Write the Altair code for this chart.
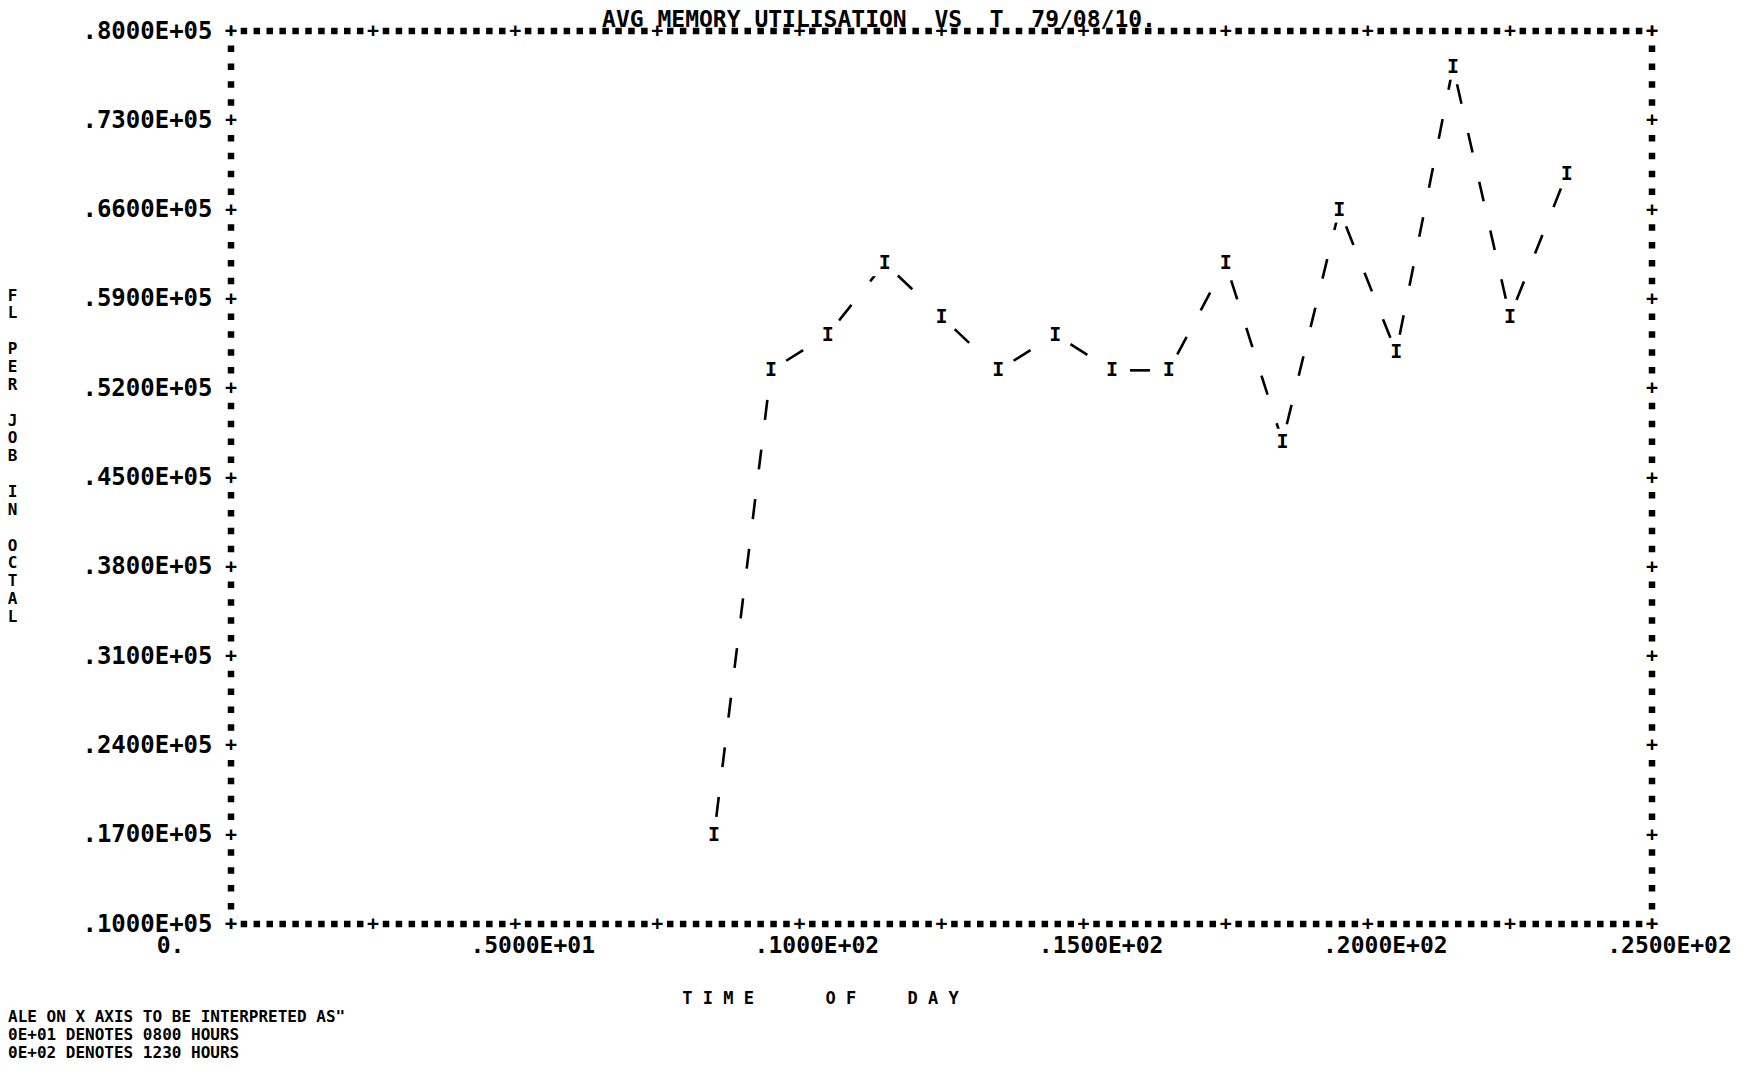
import altair as alt
import pandas as pd

FONT = "DejaVu Sans Mono"
NB = "\u00a0"
ZW = "\u200b"

# ---- data ----
time_of_day = [8.5, 9.5, 10.5, 11.5, 12.5, 13.5, 14.5, 15.5, 16.5, 17.5, 18.5, 19.5, 20.5, 21.5, 22.5, 23.5]
fl_per_job = [17000, 53400, 56200, 61800, 57600, 53400, 56200, 53400, 53400, 61800, 47800, 66000, 54800, 77200, 57600, 68800]

x_domain = [0, 25]
y_domain = [10000, 80000]
x_label_values = [0, 5, 10, 15, 20, 25]
x_labels = ["0.", ".5000E+01", ".1000E+02", ".1500E+02", ".2000E+02", ".2500E+02"]
x_tick_marks = [0, 2.5, 5, 7.5, 10, 12.5, 15, 17.5, 20, 22.5, 25]
y_tick_values = [10000, 17000, 24000, 31000, 38000, 45000, 52000, 59000, 66000, 73000, 80000]
y_labels = [".1000E+05", ".1700E+05", ".2400E+05", ".3100E+05", ".3800E+05", ".4500E+05",
            ".5200E+05", ".5900E+05", ".6600E+05", ".7300E+05", ".8000E+05"]

title_text = "AVG MEMORY UTILISATION  VS  T  79/08/10."
x_title = "T I M E       O F     D A Y"
y_title_words = ["FL", "PER", "JOB", "IN", "OCTAL"]
note_lines = ['ALE ON X AXIS TO BE INTERPRETED AS"',
              "0E+01 DENOTES 0800 HOURS",
              "0E+02 DENOTES 1230 HOURS"]

# ---- layout ----
W, H = 1421, 893


def label_expr(values, labels):
    expr = "''"
    for v, l in zip(values, labels):
        expr = f"(datum.value == {v}) ? '{l}' : ({expr})"
    return expr


y_title_lines = []
for i, w in enumerate(y_title_words):
    if i > 0:
        y_title_lines.append(ZW)
    y_title_lines.extend(list(w))

x_scale = alt.Scale(domain=x_domain, nice=False, zero=False)
y_scale = alt.Scale(domain=y_domain, nice=False, zero=False)

x_axis = alt.Axis(
    values=x_label_values,
    labelExpr=label_expr(x_label_values, x_labels),
    domain=False, ticks=False, tickSize=0, grid=False,
    labelFont=FONT, labelFontSize=23, labelFontWeight="bold", labelColor="black",
    labelAlign="center", labelBaseline="middle", labelPadding=21,
    labelFlush=False, labelOverlap=False,
    labelOffset={"condition": {"test": "datum.value == 0", "value": -61}, "value": 17},
    title=x_title.replace(" ", NB), titleFont=FONT, titleFontSize=17, titleFontWeight="bold",
    titleColor="black", titleX=589, titleY=74, titleAlign="center", titleBaseline="middle",
)
y_axis = alt.Axis(
    values=y_tick_values,
    labelExpr=label_expr(y_tick_values, y_labels),
    domain=False, ticks=False, tickSize=0, grid=False,
    labelFont=FONT, labelFontSize=24, labelFontWeight="bold", labelColor="black",
    labelPadding=19, labelOverlap=False,
    title=y_title_lines, titleAngle=0, titleFont=FONT, titleFontSize=16, titleFontWeight="bold",
    titleColor="black", titleX=-219, titleY=256, titleAlign="center", titleBaseline="top",
    titleLineHeight=17.86,
)


def X(f="x"):
    return alt.X(f"{f}:Q", scale=x_scale, axis=x_axis)


def Y(f="y"):
    return alt.Y(f"{f}:Q", scale=y_scale, axis=y_axis)


# ---- frames of '*' characters ----
h_border = pd.DataFrame({"x": [x_domain[0]] * 2, "x2": [x_domain[1]] * 2, "y": y_domain})
v_border = pd.DataFrame({"x": x_domain, "y": [y_domain[0]] * 2, "y2": [y_domain[1]] * 2})

col = W / 110.0
row = H / 50.0
star = 6.5

hb = alt.Chart(h_border).mark_rule(
    color="black", strokeWidth=star, strokeDash=[star, col - star], strokeDashOffset=star / 2
).encode(x=X(), x2="x2:Q", y=Y())
vb = alt.Chart(v_border).mark_rule(
    color="black", strokeWidth=star, strokeDash=[star, row - star], strokeDashOffset=star / 2
).encode(x=X(), y=Y(), y2="y2:Q")

plus_df = pd.concat([
    pd.DataFrame({"x": x_tick_marks, "y": [y_domain[0]] * len(x_tick_marks)}),
    pd.DataFrame({"x": x_tick_marks, "y": [y_domain[1]] * len(x_tick_marks)}),
    pd.DataFrame({"x": [x_domain[0]] * len(y_tick_values), "y": y_tick_values}),
    pd.DataFrame({"x": [x_domain[1]] * len(y_tick_values), "y": y_tick_values}),
], ignore_index=True)

plus_bg = alt.Chart(plus_df).mark_square(color="white", opacity=1, size=110).encode(x=X(), y=Y())
plus_txt = alt.Chart(plus_df).mark_text(
    text="+", font=FONT, fontSize=20, fontWeight="bold", color="black", baseline="middle", align="center"
).encode(x=X(), y=Y())

# ---- data series ----
pts = pd.DataFrame({"x": time_of_day, "y": fl_per_job})
seg = pd.DataFrame({"x": time_of_day[:-1], "y": fl_per_job[:-1],
                    "x2": time_of_day[1:], "y2": fl_per_job[1:]})

seg_chart = alt.Chart(seg).mark_rule(
    color="black", strokeWidth=2.6, strokeDash=[20, 30], strokeDashOffset=32
).encode(x=X(), y=Y(), x2="x2:Q", y2="y2:Q")

pt_bg = alt.Chart(pts).mark_square(color="white", opacity=1, size=26 * 26).encode(x=X(), y=Y())
pt_txt = alt.Chart(pts).mark_text(
    text="I", font=FONT, fontSize=20, fontWeight="bold", color="black", baseline="middle", align="center"
).encode(x=X(), y=Y())

note = alt.Chart(pd.DataFrame({"t": ["\n".join(note_lines)]})).mark_text(
    lineBreak="\n", align="left", baseline="top", font=FONT, fontSize=16, fontWeight="bold",
    lineHeight=18, color="black"
).encode(x=alt.value(-223), y=alt.value(978), text="t:N")

title_mark = alt.Chart(pd.DataFrame({"t": [title_text.replace(" ", NB)]})).mark_text(
    align="center", baseline="middle", font=FONT, fontSize=23, fontWeight="bold", color="black"
).encode(x=alt.value(648), y=alt.value(-11), text="t:N")

chart = alt.layer(hb, vb, plus_bg, plus_txt, seg_chart, pt_bg, pt_txt, note, title_mark).properties(
    width=W, height=H,
    autosize=alt.AutoSizeParams(type="none"),
    padding={"left": 223, "top": 23, "right": 80, "bottom": 140},
    background="white",
).configure_view(stroke=None)

chart.save("out.html", embed_options={"renderer": "svg", "actions": False})
